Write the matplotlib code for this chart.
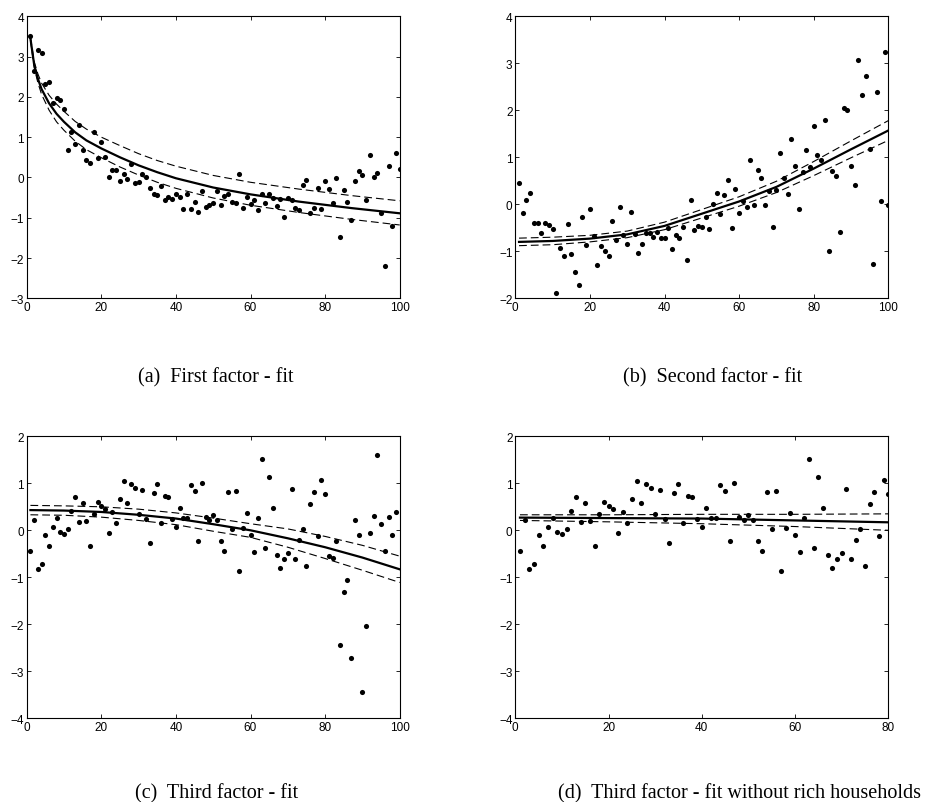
import numpy as np
import matplotlib
matplotlib.use('Agg')
import matplotlib.pyplot as plt

# observations (x = 1..n)
first_y = [3.50, 2.65, 3.17, 3.10, 2.32, 2.37, 1.84, 1.96, 1.92, 1.71,
           0.68, 1.12, 0.82, 1.31, 0.69, 0.44, 0.35, 1.12, 0.48, 0.87,
           0.51, 0.02, 0.18, 0.18, -0.08, 0.09, -0.05, 0.33, -0.14, -0.12,
           0.09, 0.00, -0.27, -0.40, -0.43, -0.21, -0.55, -0.49, -0.53, -0.40,
           -0.49, -0.78, -0.40, -0.79, -0.60, -0.87, -0.33, -0.74, -0.69, -0.64,
           -0.34, -0.69, -0.45, -0.41, -0.60, -0.64, 0.09, -0.77, -0.48, -0.67,
           -0.55, -0.81, -0.40, -0.64, -0.41, -0.50, -0.70, -0.53, -0.98, -0.52,
           -0.55, -0.75, -0.82, -0.18, -0.06, -0.89, -0.77, -0.26, -0.78, -0.09,
           -0.29, -0.64, -0.01, -1.49, -0.31, -0.60, -1.05, -0.08, 0.17, 0.07,
           -0.56, 0.55, 0.00, 0.12, -0.89, -2.19, 0.29, -1.20, 0.60, 0.21]

second_y = [0.45, -0.18, 0.09, 0.23, -0.40, -0.40, -0.60, -0.39, -0.43, -0.53,
            -1.88, -0.92, -1.09, -0.42, -1.06, -1.43, -1.72, -0.28, -0.86, -0.10,
            -0.67, -1.30, -0.89, -0.99, -1.11, -0.35, -0.76, -0.06, -0.65, -0.85,
            -0.16, -0.63, -1.04, -0.84, -0.62, -0.62, -0.69, -0.59, -0.71, -0.71,
            -0.50, -0.96, -0.65, -0.72, -0.48, -1.18, 0.09, -0.54, -0.46, -0.48,
            -0.26, -0.52, 0.01, 0.23, -0.21, 0.20, 0.52, -0.50, 0.33, -0.19,
            0.06, -0.06, 0.94, -0.02, 0.72, 0.56, -0.02, 0.28, -0.49, 0.30,
            1.09, 0.55, 0.22, 1.39, 0.82, -0.11, 0.68, 1.16, 0.79, 1.66,
            1.04, 0.95, 1.79, -0.99, 0.70, 0.60, -0.58, 2.04, 2.00, 0.81,
            0.41, 3.06, 2.32, 2.72, 1.17, -1.28, 2.38, 0.08, 3.23, -0.01]

third_y = [-0.43, 0.21, -0.82, -0.71, -0.11, -0.33, 0.08, 0.26, -0.03, -0.07,
           0.03, 0.40, 0.70, 0.18, 0.58, 0.19, -0.33, 0.34, 0.61, 0.51,
           0.46, -0.05, 0.38, 0.16, 0.66, 1.04, 0.59, 0.99, 0.91, 0.35,
           0.86, 0.25, -0.28, 0.79, 0.99, 0.16, 0.72, 0.70, 0.23, 0.07,
           0.48, 0.26, 0.26, 0.97, 0.84, -0.23, 1.00, 0.28, 0.22, 0.32,
           0.22, -0.22, -0.44, 0.82, 0.03, 0.84, -0.87, 0.04, 0.37, -0.09,
           -0.46, 0.27, 1.51, -0.38, 1.13, 0.47, -0.52, -0.81, -0.62, -0.48,
           0.87, -0.60, -0.20, 0.02, -0.75, 0.57, 0.82, -0.12, 1.08, 0.78,
           -0.55, -0.58, -0.23, -2.43, -1.31, -1.06, -2.71, 0.22, -0.11, -3.45,
           -2.04, -0.05, 0.30, 1.60, 0.13, -0.43, 0.29, -0.11, 0.39]
n_poor = 80  # without rich households

# fitted curves and bands
first_fx = [1, 2, 3, 4, 6, 8, 10, 13, 16, 20, 25, 30, 35, 40, 50, 60, 73, 87, 100]
first_fit = [3.45, 2.80, 2.45, 2.19, 1.84, 1.58, 1.38, 1.12, 0.92, 0.72,
             0.50, 0.30, 0.13, -0.02, -0.25, -0.42, -0.60, -0.76, -0.89]
first_hi = [3.48, 2.88, 2.57, 2.34, 2.04, 1.82, 1.64, 1.39, 1.20, 1.00,
            0.79, 0.59, 0.42, 0.28, 0.05, -0.12, -0.29, -0.45, -0.58]
first_lo = [3.42, 2.73, 2.35, 2.06, 1.67, 1.38, 1.17, 0.90, 0.69, 0.49,
            0.26, 0.06, -0.12, -0.27, -0.51, -0.69, -0.87, -1.04, -1.18]

second_fx = [1, 10, 20, 30, 40, 50, 60, 70, 80, 90, 100]
second_fit = [-0.80, -0.78, -0.73, -0.64, -0.46, -0.20, 0.06, 0.37, 0.76, 1.17, 1.57]
second_hi = [-0.72, -0.70, -0.66, -0.57, -0.38, -0.11, 0.16, 0.49, 0.91, 1.35, 1.78]
second_lo = [-0.88, -0.86, -0.80, -0.71, -0.54, -0.29, -0.04, 0.25, 0.61, 0.99, 1.36]

third_fx = [1, 10, 20, 30, 40, 50, 60, 70, 80, 90, 100]
third_fit = [0.43, 0.42, 0.39, 0.33, 0.25, 0.13, 0.00, -0.17, -0.36, -0.58, -0.83]
third_hi = [0.53, 0.52, 0.50, 0.45, 0.37, 0.26, 0.14, 0.03, -0.13, -0.32, -0.55]
third_lo = [0.33, 0.32, 0.28, 0.21, 0.12, -0.02, -0.15, -0.36, -0.60, -0.85, -1.11]

poor_fx = [1, 20, 40, 60, 80]
poor_fit = [0.27, 0.26, 0.25, 0.21, 0.17]
poor_hi = [0.33, 0.33, 0.34, 0.34, 0.35]
poor_lo = [0.21, 0.18, 0.14, 0.08, 0.00]

captions = ['(a)  First factor - fit', '(b)  Second factor - fit',
            '(c)  Third factor - fit', '(d)  Third factor - fit without rich households']

panels = [
    (first_y, first_fx, first_fit, first_hi, first_lo, (0, 100), (-3, 4)),
    (second_y, second_fx, second_fit, second_hi, second_lo, (0, 100), (-2, 4)),
    (third_y, third_fx, third_fit, third_hi, third_lo, (0, 100), (-4, 2)),
    (third_y[:n_poor], poor_fx, poor_fit, poor_hi, poor_lo, (0, 80), (-4, 2)),
]

W, H = 933, 803
fig = plt.figure(figsize=(W / 100, H / 100), dpi=100)
boxes = [(26.7, 17.3), (515.3, 17.3), (26.7, 437.3), (515.3, 437.3)]
cap_pos = [(216, 378), (713, 378), (217, 794), (740, 794)]
aw, ah = 373.0, 282.0

for (ys, fx, fit, hi, lo, xl, yl), (left, top), cap, (cx, cy) in zip(panels, boxes, captions, cap_pos):
    ax = fig.add_axes([left / W, 1 - (top + ah) / H, aw / W, ah / H])
    xs = np.arange(1, len(ys) + 1)
    ax.plot(fx, hi, color='k', lw=0.8, ls=(0, (7, 3.6)))
    ax.plot(fx, lo, color='k', lw=0.8, ls=(0, (7, 3.6)))
    ax.plot(fx, fit, color='k', lw=1.6)
    ax.plot(xs, ys, 'o', color='k', ms=3.7, mec='none')
    ax.set_xlim(*xl)
    ax.set_ylim(*yl)
    ax.set_xticks(np.arange(xl[0], xl[1] + 1, 20))
    ax.set_yticks(np.arange(yl[0], yl[1] + 1, 1))
    ax.tick_params(direction='in', top=True, right=True, length=3, width=0.6,
                   labelsize=8.5, pad=2)
    for lab in ax.get_xticklabels() + ax.get_yticklabels():
        lab.set_fontfamily('Liberation Sans')
    for s in ax.spines.values():
        s.set_linewidth(0.8)
    fig.text(cx / W, 1 - cy / H, cap, ha='center', va='center',
             fontsize=14.5, family='Liberation Serif')

fig.savefig('out.png', dpi=100)
